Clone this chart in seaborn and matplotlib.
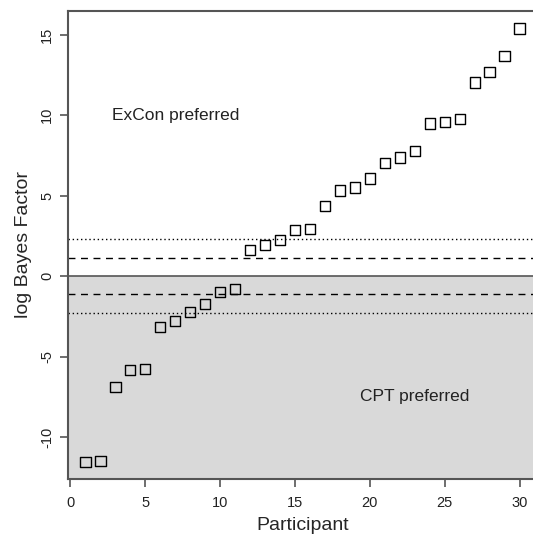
import numpy as np
import matplotlib
matplotlib.use("Agg")
import matplotlib.pyplot as plt
import seaborn as sns

# 참가자별 log Bayes factor
participant = list(range(1, 31))
log_bf = [-11.55, -11.5, -6.9, -5.84, -5.78, -3.17, -2.8, -2.24, -1.74, -1.0,
          -0.8, 1.61, 1.93, 2.24, 2.88, 2.94, 4.37, 5.32, 5.5, 6.07,
          7.04, 7.37, 7.76, 9.48, 9.58, 9.75, 12.03, 12.69, 13.68, 15.38]

# 기준선: log(3), log(10)
dashed_level = np.log(3)
dotted_level = np.log(10)

sns.set_style("white")
plt.rcParams['font.family'] = ['Liberation Sans', 'DejaVu Sans']

fig = plt.figure(figsize=(5.33, 5.36), dpi=100)
ax = fig.add_axes([68 / 533, 1 - 479 / 536, (537 - 68) / 533, (479 - 11) / 536])

ax.set_xlim(-0.16, 31.16)
ax.set_ylim(-12.6, 16.46)

# CPT 영역 음영
ax.axhspan(-20, 0, color='#d9d9d9', zorder=0, lw=0)
ax.axhline(0, color='#555555', lw=1.2, zorder=1)
for s in (1, -1):
    ax.axhline(s * dashed_level, color='black', lw=1, ls=(0, (5, 4)), zorder=1)
    ax.axhline(s * dotted_level, color='black', lw=1, ls=(0, (1, 2)), zorder=1)

sns.scatterplot(x=participant, y=log_bf, marker='s', s=56, facecolors='none',
                edgecolor='black', linewidth=1.0, ax=ax, zorder=3)

ax.text(7, 10, 'ExCon preferred', fontsize=12.5, ha='center', va='center', color='#222222')
ax.text(23, -7.5, 'CPT preferred', fontsize=12.5, ha='center', va='center', color='#222222')

ax.set_xticks([0, 5, 10, 15, 20, 25, 30])
ax.set_yticks([-10, -5, 0, 5, 10, 15])
ax.set_yticklabels(['-10', '-5', '0', '5', '10', '15'], rotation=90, va='center')
ax.tick_params(axis='both', direction='out', length=6, width=1.2, color='#555555',
               labelsize=10.5, labelcolor='#222222', pad=4, bottom=True, left=True)
ax.tick_params(axis='x', pad=6)

for sp in ax.spines.values():
    sp.set_color('#555555')
    sp.set_linewidth(1.5)

ax.set_xlabel('Participant', fontsize=14, labelpad=5)
ax.set_ylabel('log Bayes Factor', fontsize=14, labelpad=6)

fig.savefig('out.png', dpi=100)
